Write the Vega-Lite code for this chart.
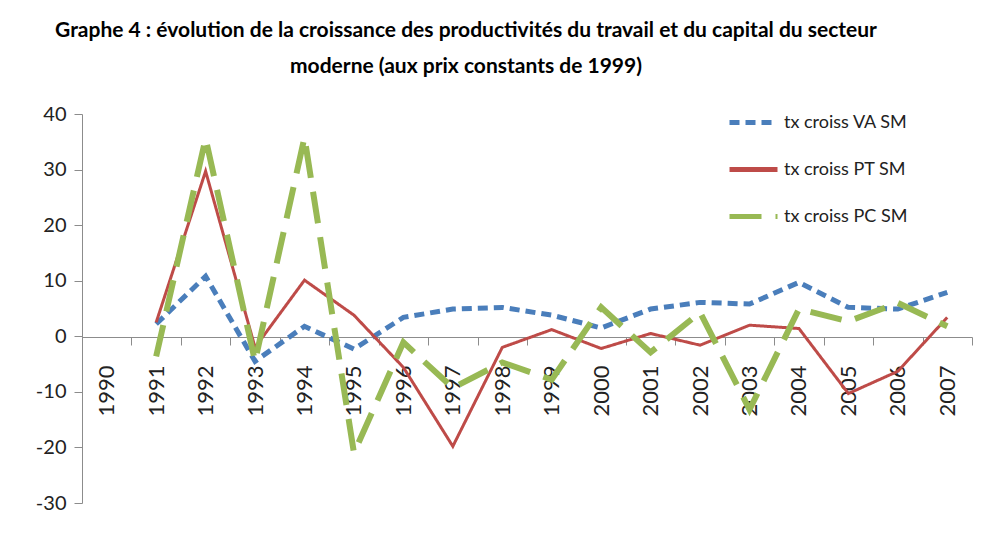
{
  "$schema": "https://vega.github.io/schema/vega-lite/v6.json",
  "width": 890,
  "height": 389,
  "autosize": "none",
  "padding": {"left": 82, "top": 114, "right": 15, "bottom": 31},
  "background": "white",
  "title": {
    "text": ["Graphe 4 : évolution de la croissance  des  productivités du travail et du capital du secteur", "moderne (aux prix constants de 1999)"],
    "font": "Lato",
    "fontSize": 21,
    "fontWeight": "bold",
    "color": "#000000",
    "anchor": "middle",
    "frame": "group",
    "dx": -61,
    "lineHeight": 36,
    "offset": 19
  },
  "data": {
    "values": [
      {"year": "1991", "series": "tx croiss VA SM", "value": 2.2},
      {"year": "1992", "series": "tx croiss VA SM", "value": 10.8},
      {"year": "1993", "series": "tx croiss VA SM", "value": -4.5},
      {"year": "1994", "series": "tx croiss VA SM", "value": 1.8},
      {"year": "1995", "series": "tx croiss VA SM", "value": -2.3},
      {"year": "1996", "series": "tx croiss VA SM", "value": 3.4},
      {"year": "1997", "series": "tx croiss VA SM", "value": 4.9},
      {"year": "1998", "series": "tx croiss VA SM", "value": 5.2},
      {"year": "1999", "series": "tx croiss VA SM", "value": 3.8},
      {"year": "2000", "series": "tx croiss VA SM", "value": 1.5},
      {"year": "2001", "series": "tx croiss VA SM", "value": 4.9},
      {"year": "2002", "series": "tx croiss VA SM", "value": 6.1},
      {"year": "2003", "series": "tx croiss VA SM", "value": 5.8},
      {"year": "2004", "series": "tx croiss VA SM", "value": 9.7},
      {"year": "2005", "series": "tx croiss VA SM", "value": 5.2},
      {"year": "2006", "series": "tx croiss VA SM", "value": 4.9},
      {"year": "2007", "series": "tx croiss VA SM", "value": 7.9},
      {"year": "1991", "series": "tx croiss PT SM", "value": 2.5},
      {"year": "1992", "series": "tx croiss PT SM", "value": 29.7},
      {"year": "1993", "series": "tx croiss PT SM", "value": -2.0},
      {"year": "1994", "series": "tx croiss PT SM", "value": 10.1},
      {"year": "1995", "series": "tx croiss PT SM", "value": 3.8},
      {"year": "1996", "series": "tx croiss PT SM", "value": -5.6},
      {"year": "1997", "series": "tx croiss PT SM", "value": -19.8},
      {"year": "1998", "series": "tx croiss PT SM", "value": -2.0},
      {"year": "1999", "series": "tx croiss PT SM", "value": 1.2},
      {"year": "2000", "series": "tx croiss PT SM", "value": -2.2},
      {"year": "2001", "series": "tx croiss PT SM", "value": 0.5},
      {"year": "2002", "series": "tx croiss PT SM", "value": -1.6},
      {"year": "2003", "series": "tx croiss PT SM", "value": 2.0},
      {"year": "2004", "series": "tx croiss PT SM", "value": 1.4},
      {"year": "2005", "series": "tx croiss PT SM", "value": -10.3},
      {"year": "2006", "series": "tx croiss PT SM", "value": -6.3},
      {"year": "2007", "series": "tx croiss PT SM", "value": 3.4},
      {"year": "1991", "series": "tx croiss PC SM", "value": -3.6},
      {"year": "1992", "series": "tx croiss PC SM", "value": 35.6},
      {"year": "1993", "series": "tx croiss PC SM", "value": -4.5},
      {"year": "1994", "series": "tx croiss PC SM", "value": 35.8},
      {"year": "1995", "series": "tx croiss PC SM", "value": -21.0},
      {"year": "1996", "series": "tx croiss PC SM", "value": -1.1},
      {"year": "1997", "series": "tx croiss PC SM", "value": -9.3},
      {"year": "1998", "series": "tx croiss PC SM", "value": -4.7},
      {"year": "1999", "series": "tx croiss PC SM", "value": -7.8},
      {"year": "2000", "series": "tx croiss PC SM", "value": 5.2},
      {"year": "2001", "series": "tx croiss PC SM", "value": -2.9},
      {"year": "2002", "series": "tx croiss PC SM", "value": 4.3},
      {"year": "2003", "series": "tx croiss PC SM", "value": -13.2},
      {"year": "2004", "series": "tx croiss PC SM", "value": 4.9},
      {"year": "2005", "series": "tx croiss PC SM", "value": 2.7},
      {"year": "2006", "series": "tx croiss PC SM", "value": 6.0},
      {"year": "2007", "series": "tx croiss PC SM", "value": 1.8}
    ]
  },
  "encoding": {
    "x": {
      "field": "year",
      "type": "ordinal",
      "bandPosition": 0.5,
      "scale": {
        "type": "band",
        "domain": ["1990","1991","1992","1993","1994","1995","1996","1997","1998","1999","2000","2001","2002","2003","2004","2005","2006","2007"],
        "paddingInner": 0,
        "paddingOuter": 0
      },
      "axis": {
        "title": null,
        "orient": "bottom",
        "offset": -166,
        "tickBand": "extent",
        "labelAngle": -90,
        "labelAlign": "right",
        "labelBaseline": "middle",
        "labelPadding": 20,
        "labelFont": "Lato",
        "labelFontSize": 22,
        "labelColor": "#222222",
        "domainColor": "#8c8c8c",
        "tickColor": "#8c8c8c",
        "tickSize": 8,
        "grid": false
      }
    },
    "y": {
      "field": "value",
      "type": "quantitative",
      "scale": {"domain": [-30, 40], "nice": false, "zero": false},
      "axis": {
        "title": null,
        "values": [-30, -20, -10, 0, 10, 20, 30, 40],
        "labelExpr": "'' + datum.value",
        "labelFont": "Lato",
        "labelFontSize": 20,
        "labelColor": "#222222",
        "labelPadding": 8,
        "domainColor": "#8c8c8c",
        "tickColor": "#8c8c8c",
        "tickSize": 8,
        "grid": false
      }
    },
    "color": {
      "field": "series",
      "type": "nominal",
      "scale": {
        "domain": ["tx croiss VA SM", "tx croiss PT SM", "tx croiss PC SM"],
        "range": ["#4a7ebb", "#be4b48", "#98b954"]
      },
      "legend": {
        "title": null,
        "orient": "none",
        "legendX": 645,
        "legendY": -18,
        "symbolType": "stroke",
        "symbolSize": 2304,
        "symbolStrokeWidth": 5,
        "labelFont": "Lato",
        "labelFontSize": 18,
        "labelColor": "#222222",
        "rowPadding": 10,
        "labelOffset": 4,
        "labelLimit": 300
      }
    },
    "strokeDash": {
      "field": "series",
      "type": "nominal",
      "scale": {
        "domain": ["tx croiss VA SM", "tx croiss PT SM", "tx croiss PC SM"],
        "range": [[10, 6], [1, 0], [32, 14]]
      }
    }
  },
  "layer": [
    {
      "transform": [{"filter": "datum.series === 'tx croiss VA SM'"}],
      "mark": {"type": "line", "strokeWidth": 5, "strokeCap": "butt"}
    },
    {
      "transform": [{"filter": "datum.series === 'tx croiss PT SM'"}],
      "mark": {"type": "line", "strokeWidth": 3}
    },
    {
      "transform": [{"filter": "datum.series === 'tx croiss PC SM'"}],
      "mark": {"type": "line", "strokeWidth": 6, "strokeCap": "butt"}
    }
  ],
  "config": {
    "view": {"stroke": null}
  }
}
